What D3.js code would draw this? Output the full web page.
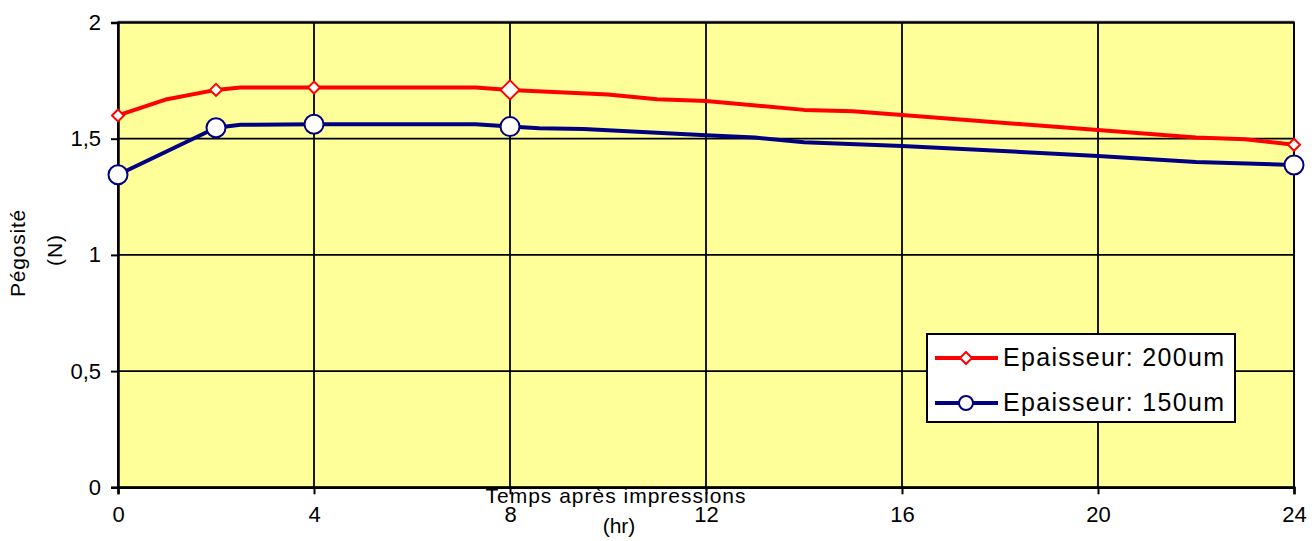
<!DOCTYPE html>
<html>
<head>
<meta charset="utf-8">
<script src="https://cdn.jsdelivr.net/npm/d3@7"></script>
<style>
  html, body { margin: 0; padding: 0; background: #fff; }
  svg text { font-family: "Liberation Sans", Arial, sans-serif; fill: #000; }
</style>
</head>
<body>
<svg id="graphe" width="1316" height="541"></svg>
<script>
// heures et valeurs (N)
const heures200 = [0, 1, 2, 2.5, 4, 7.3, 8, 9, 10, 11, 12, 14, 15, 16, 20, 22, 23, 24];
const pego200   = [1.60, 1.67, 1.71, 1.72, 1.72, 1.72, 1.71, 1.70, 1.69, 1.67, 1.662, 1.624, 1.618, 1.602, 1.537, 1.505, 1.498, 1.474];
const heures150 = [0, 2, 2.5, 4, 7.3, 8, 8.6, 9.5, 12, 13, 14, 16, 20, 22, 24];
const pego150   = [1.345, 1.547, 1.56, 1.562, 1.562, 1.552, 1.545, 1.542, 1.515, 1.505, 1.485, 1.469, 1.426, 1.40, 1.387];
const heuresMesure = [0, 2, 4, 8, 24];

const ticksX = [0, 4, 8, 12, 16, 20, 24];
const ticksY = [0, 0.5, 1, 1.5, 2];
const series = [
  { nom: "Epaisseur: 200um", heures: heures200, valeurs: pego200, couleur: "#ff0000", marque: "losange" },
  { nom: "Epaisseur: 150um", heures: heures150, valeurs: pego150, couleur: "#000080", marque: "rond" }
];

const svg = d3.select("#graphe");
const gauche = 118, droite = 1294, haut = 22.5, bas = 487.3;

const x = d3.scaleLinear().domain([0, 24]).range([gauche, droite]);
const y = d3.scaleLinear().domain([0, 2]).range([bas, haut]);
const virgule = d3.formatLocale({ decimal: ",", thousands: " ", grouping: [3], currency: ["", "€"] }).format("~g");

// fond jaune
svg.append("rect").attr("x", gauche).attr("y", haut).attr("width", droite - gauche).attr("height", bas - haut)
  .attr("fill", "#ffff99");
svg.append("line").attr("x1", gauche).attr("x2", droite).attr("y1", haut - 1.5).attr("y2", haut - 1.5)
  .attr("stroke", "#b0b0b0").attr("stroke-width", 1);

// grille
svg.append("g").selectAll("line").data(ticksX.slice(1)).join("line")
  .attr("x1", d => x(d)).attr("x2", d => x(d)).attr("y1", haut).attr("y2", bas)
  .attr("stroke", "#000").attr("stroke-width", 1.8);
svg.append("g").selectAll("line").data(ticksY.slice(1)).join("line")
  .attr("x1", gauche).attr("x2", droite).attr("y1", d => y(d)).attr("y2", d => y(d))
  .attr("stroke", "#000").attr("stroke-width", 1.8);

// axes
const axeX = svg.append("g").attr("transform", `translate(0,${bas})`)
  .call(d3.axisBottom(x).tickValues(ticksX).tickSize(7).tickPadding(12).tickFormat(d3.format("d")));
const axeY = svg.append("g").attr("transform", `translate(${gauche},0)`)
  .call(d3.axisLeft(y).tickValues(ticksY).tickSize(7).tickPadding(10).tickFormat(virgule));
[axeX, axeY].forEach(a => {
  a.select(".domain").attr("stroke", "#000").attr("stroke-width", 2.5);
  a.selectAll(".tick line").attr("stroke", "#000").attr("stroke-width", 2);
  a.selectAll("text").attr("font-size", 22).attr("fill", "#000");
});
svg.append("rect").attr("x", gauche).attr("y", haut).attr("width", droite - gauche).attr("height", bas - haut)
  .attr("fill", "none").attr("stroke", "#000").attr("stroke-width", 2);

// courbes
const ligne = d3.line().x(d => x(d[0])).y(d => y(d[1]));
series.forEach(s => {
  const pts = s.heures.map((h, i) => [h, s.valeurs[i]]);
  svg.append("path").datum(pts).attr("d", ligne)
    .attr("fill", "none").attr("stroke", s.couleur).attr("stroke-width", 4)
    .attr("stroke-linejoin", "round");
});

function marque(g, s, cx, cy, grand) {
  if (s.marque === "losange") {
    const r = grand ? 9.5 : 6;
    g.append("path").attr("d", `M${cx},${cy - r}L${cx + r},${cy}L${cx},${cy + r}L${cx - r},${cy}Z`)
      .attr("fill", "#fff").attr("stroke", s.couleur).attr("stroke-width", 2);
  } else {
    g.append("circle").attr("cx", cx).attr("cy", cy).attr("r", grand ? 9.5 : 7)
      .attr("fill", "#fff").attr("stroke", s.couleur).attr("stroke-width", 2);
  }
}

const gm = svg.append("g");
series.forEach(s => {
  heuresMesure.forEach(h => {
    const v = s.valeurs[s.heures.indexOf(h)];
    const grand = s.marque === "rond" || h === 8;
    marque(gm, s, x(h), y(v), grand);
  });
});

// titres des axes
svg.append("text").attr("x", 616).attr("y", 503).attr("text-anchor", "middle")
  .attr("font-size", 21).attr("letter-spacing", 1).text("Temps après impressions");
svg.append("text").attr("x", 619).attr("y", 533).attr("text-anchor", "middle")
  .attr("font-size", 21).text("(hr)");
svg.append("text").attr("transform", "translate(25,253) rotate(-90)").attr("text-anchor", "middle")
  .attr("font-size", 21).attr("letter-spacing", 0.8).text("Pégosité");
svg.append("text").attr("transform", "translate(62,250) rotate(-90)").attr("text-anchor", "middle")
  .attr("font-size", 21).attr("letter-spacing", 1).text("(N)");

// légende
const leg = svg.append("g");
leg.append("rect").attr("x", 927).attr("y", 334).attr("width", 308).attr("height", 88)
  .attr("fill", "#fff").attr("stroke", "#000").attr("stroke-width", 2);
series.forEach((s, i) => {
  const ly = 358 + i * 45;
  leg.append("line").attr("x1", 935).attr("x2", 998).attr("y1", ly).attr("y2", ly)
    .attr("stroke", s.couleur).attr("stroke-width", 4);
  marque(leg, s, 966, ly, false);
  leg.append("text").attr("x", 1003).attr("y", ly + 8).attr("font-size", 25).attr("letter-spacing", 1.3)
    .text(s.nom);
});
</script>
</body>
</html>
